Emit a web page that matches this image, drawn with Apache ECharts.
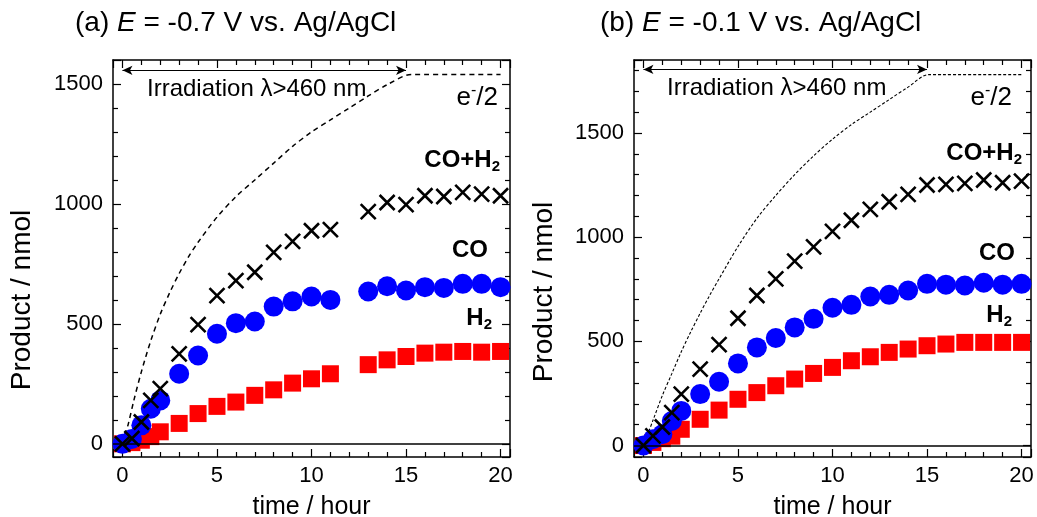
<!DOCTYPE html>
<html>
<head>
<meta charset="utf-8">
<script src="https://cdn.jsdelivr.net/npm/echarts@6/dist/echarts.min.js"></script>
<style>
  html, body { margin: 0; padding: 0; background: #fff; }
  #chart { width: 1037px; height: 517px; }
</style>
</head>
<body>
<div id="chart"></div>
<script>
// ---- Panel (a): E = -0.7 V vs. Ag/AgCl (no sample at 12 h) ----
const hoursA = [0, 0.5, 1, 1.5, 2, 3, 4, 5, 6, 7, 8, 9, 10, 11, 13, 14, 15, 16, 17, 18, 19, 20];
const sumA   = [0, 22, 91, 181, 230, 375, 497, 618, 680, 715, 798, 844, 888, 893, 968, 1006, 997, 1034, 1031, 1048, 1041, 1034];
const coA    = [0, 20, 77, 146, 181, 292, 368, 459, 503, 510, 572, 594, 614, 600, 635, 657, 639, 653, 650, 667, 667, 653];
const h2A    = [0, 5, 15, 30, 50, 85, 126, 156, 174, 202, 225, 253, 271, 292, 330, 350, 364, 378, 382, 385, 382, 385];
const eHoursA = [0, 0.3, 0.6, 1.0, 1.5, 2.0, 2.5, 3.0, 3.5, 4.0, 5.0, 6.0, 7.0, 8.0, 9.0, 10.0, 11.0, 12.0, 13.0, 14.0, 15.3, 20];
const eHalfA  = [0, 80, 180, 300, 430, 540, 630, 710, 780, 840, 945, 1030, 1100, 1170, 1240, 1300, 1350, 1400, 1450, 1497, 1540, 1540];

// ---- Panel (b): E = -0.1 V vs. Ag/AgCl ----
const hoursB = [0, 0.5, 1, 1.5, 2, 3, 4, 5, 6, 7, 8, 9, 10, 11, 12, 13, 14, 15, 16, 17, 18, 19, 20];
const sumB   = [0, 46, 89, 158, 247, 367, 484, 611, 720, 800, 885, 953, 1028, 1081, 1133, 1170, 1205, 1250, 1253, 1258, 1274, 1261, 1269];
const coB    = [0, 30, 54, 118, 166, 247, 306, 394, 471, 516, 567, 608, 661, 675, 715, 723, 744, 776, 772, 768, 781, 772, 776];
const h2B    = [0, 15, 33, 45, 78, 126, 170, 222, 254, 287, 319, 346, 375, 407, 426, 447, 463, 479, 487, 495, 495, 495, 495];
const eHoursB = [0, 0.5, 1, 1.5, 2, 2.5, 3, 3.5, 4, 5, 6, 7, 8, 9, 10, 11, 12, 13, 14, 15.1, 20];
const eHalfB  = [0, 120, 240, 345, 450, 545, 635, 720, 800, 955, 1090, 1200, 1300, 1390, 1470, 1540, 1600, 1660, 1720, 1780, 1780];

// irradiation period (hours) and axis ranges
const irradiation = [0, 15];
const xRange = [-0.5, 20.5];
const yRangeA = [-55, 1600];
const yRangeB = [-55, 1850];

const FONT = 'Liberation Sans, Arial, Helvetica, sans-serif';
const pairs = (xs, ys) => xs.map((x, i) => [x, ys[i]]);
const CROSS = 'path://M0,0L10,10M0,10L10,0';

function xAxes(gridIndex) {
  const base = {
    type: 'value', gridIndex, min: xRange[0], max: xRange[1], splitNumber: 5,
    axisLine: { show: true, onZero: false, lineStyle: { color: '#000', width: 1.5 } },
    axisTick: { show: true, inside: true, length: 8, lineStyle: { color: '#000', width: 1.2 } },
    minorTick: { show: true, splitNumber: 5, length: 5, lineStyle: { color: '#000', width: 1.2 } },
    splitLine: { show: false }
  };
  return [
    Object.assign({}, base, {
      position: 'bottom',
      axisLabel: { show: true, margin: 8, color: '#000', fontSize: 22, fontFamily: FONT,
        formatter: v => (Math.abs(v % 5) < 1e-9 ? String(v) : '') },
      name: 'time / hour', nameLocation: 'middle', nameGap: 38,
      nameTextStyle: { color: '#000', fontSize: 25, fontFamily: FONT }
    }),
    Object.assign({}, base, { position: 'top', axisLabel: { show: false } })
  ];
}

function yAxes(gridIndex, range) {
  const base = {
    type: 'value', gridIndex, min: range[0], max: range[1], splitNumber: 3,
    axisLine: { show: true, onZero: false, lineStyle: { color: '#000', width: 1.5 } },
    axisTick: { show: true, inside: true, length: 8, lineStyle: { color: '#000', width: 1.2 } },
    minorTick: { show: true, splitNumber: 5, length: 5, lineStyle: { color: '#000', width: 1.2 } },
    splitLine: { show: false }
  };
  return [
    Object.assign({}, base, {
      position: 'left',
      axisLabel: { show: true, margin: 10, color: '#000', fontSize: 22, fontFamily: FONT,
        formatter: v => (Math.abs(v % 500) < 1e-9 ? String(v) : '') }
    }),
    Object.assign({}, base, { position: 'right', axisLabel: { show: false } })
  ];
}

function panelSeries(axisIndex, hours, h2, co, sum, eHours, eHalf, arrowY, dash, dashWidth) {
  const common = { xAxisIndex: axisIndex, yAxisIndex: axisIndex, silent: true, animation: false };
  return [
    Object.assign({}, common, {
      type: 'line', name: 'e-/2', data: pairs(eHours, eHalf), showSymbol: false, smooth: 0.3,
      lineStyle: { color: '#000', width: dashWidth, type: dash }, z: 1,
      markLine: {
        silent: true, animation: false, symbol: ['arrow', 'arrow'], symbolSize: [7, 10],
        label: { show: false },
        lineStyle: { color: '#000', width: 1.2, type: 'solid' },
        data: [[{ coord: [irradiation[0], arrowY] }, { coord: [irradiation[1], arrowY] }]]
      }
    }),
    Object.assign({}, common, {
      type: 'scatter', name: 'H2', data: pairs(hours, h2),
      symbol: 'rect', symbolSize: 17, itemStyle: { color: '#ff0000', opacity: 1 }, z: 2,
      markLine: {
        silent: true, animation: false, symbol: 'none', label: { show: false },
        lineStyle: { color: '#000', width: 1.5, type: 'solid' },
        data: [{ yAxis: 0 }]
      }
    }),
    Object.assign({}, common, {
      type: 'scatter', name: 'CO', data: pairs(hours, co),
      symbol: 'circle', symbolSize: 20, itemStyle: { color: '#0000ff', opacity: 1 }, z: 3
    }),
    Object.assign({}, common, {
      type: 'scatter', name: 'CO+H2', data: pairs(hours, sum),
      symbol: CROSS, symbolSize: 15,
      itemStyle: { color: 'transparent', borderColor: '#000', borderWidth: 2.6, opacity: 1 }, z: 4
    })
  ];
}

function label(x, y, text, rich, align) {
  return { type: 'text', x, y, silent: true,
    style: { text, rich, align: align || 'left', verticalAlign: 'middle', fill: '#000', font: '24px ' + FONT } };
}

const richBold = (color) => ({
  b: { fontSize: 24, fontWeight: 'bold', color, fontFamily: FONT, lineHeight: 28 },
  s: { fontSize: 15, fontWeight: 'bold', color, fontFamily: FONT, lineHeight: 28, verticalAlign: 'bottom' }
});
const richE = {
  n: { fontSize: 26, color: '#000', fontFamily: FONT, lineHeight: 30 },
  p: { fontSize: 16, color: '#000', fontFamily: FONT, lineHeight: 30, verticalAlign: 'top' }
};
const richPlain = { n: { fontSize: 24, color: '#000', fontFamily: FONT } };

const graphics = [];
function annotate(irrX, irrY, eRight, eY, sumRight, sumY, coRight, coY, h2Right, h2Y) {
  graphics.push(label(irrX, irrY, '{n|Irradiation λ>460 nm}', richPlain));
  graphics.push(label(eRight, eY, '{n|e}{p|-}{n|/2}', richE, 'right'));
  graphics.push(label(sumRight, sumY, '{b|CO+H}{s|2}', richBold('#000'), 'right'));
  graphics.push(label(coRight, coY, '{b|CO}', richBold('#0000ff'), 'right'));
  graphics.push(label(h2Right, h2Y, '{b|H}{s|2}', richBold('#ff0000'), 'right'));
}
annotate(147, 89, 498, 98, 500, 160, 488, 250, 492, 318);
annotate(667, 88, 1012, 98, 1022, 153, 1015, 253, 1012, 315);

// rotated y-axis titles
const yTitleFont = '28px ' + FONT;
graphics.push({ type: 'text', x: 22, y: 300, rotation: Math.PI / 2, silent: true,
  style: { text: 'Product / nmol', align: 'center', verticalAlign: 'middle', fill: '#000', font: yTitleFont } });
graphics.push({ type: 'text', x: 544, y: 292, rotation: Math.PI / 2, silent: true,
  style: { text: 'Product / nmol', align: 'center', verticalAlign: 'middle', fill: '#000', font: yTitleFont } });

const titleStyle = { color: '#000', fontSize: 28, fontWeight: 'normal', fontFamily: FONT,
  rich: { i: { fontStyle: 'italic', fontSize: 28, color: '#000', fontFamily: FONT } } };

const chart = echarts.init(document.getElementById('chart'), null, { renderer: 'canvas' });
chart.setOption({
  backgroundColor: '#fff',
  animation: false,
  title: [
    { text: '(a) {i|E} = -0.7 V vs. Ag/AgCl', left: 75, top: 9, padding: 0, textStyle: titleStyle },
    { text: '(b) {i|E} = -0.1 V vs. Ag/AgCl', left: 600, top: 9, padding: 0, textStyle: titleStyle }
  ],
  grid: [
    { left: 113, top: 60, width: 397, height: 397, outerBoundsMode: 'none', containLabel: false },
    { left: 634, top: 60, width: 397, height: 397, outerBoundsMode: 'none', containLabel: false }
  ],
  xAxis: [].concat(xAxes(0), xAxes(1)),
  yAxis: [].concat(yAxes(0, yRangeA), yAxes(1, yRangeB)),
  series: [].concat(
    panelSeries(0, hoursA, h2A, coA, sumA, eHoursA, eHalfA, 1557, [5, 4], 1.5),
    panelSeries(2, hoursB, h2B, coB, sumB, eHoursB, eHalfB, 1805, [3, 2], 1.1)
  ),
  graphic: graphics
});
</script>
</body>
</html>
